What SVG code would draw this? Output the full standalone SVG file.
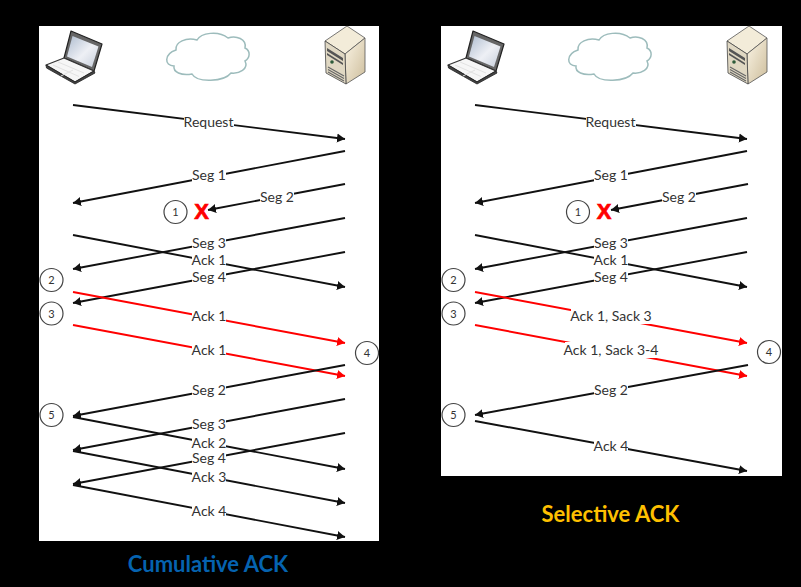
<svg xmlns="http://www.w3.org/2000/svg" width="801" height="587" viewBox="0 0 801 587">
<style>
.k{stroke:#111;stroke-width:1.9;fill:none;marker-end:url(#ak)}
.r{stroke:#f00;stroke-width:1.9;fill:none;marker-end:url(#ar)}
.bg{fill:#fff}
.t{font:14px Lato,"Liberation Sans",sans-serif;fill:#333;text-anchor:middle}
.c{fill:#fff;stroke:#444;stroke-width:1.2}
.n{font:11px Lato,"Liberation Sans",sans-serif;fill:#333;text-anchor:middle}
.x{font:900 22px "Liberation Sans",sans-serif;fill:#f00;stroke:#f00;stroke-width:.7;text-anchor:middle}
.title{font:bold 22px Lato,"Liberation Sans",sans-serif;text-anchor:middle}
</style>
<defs>
<marker id="ak" markerUnits="userSpaceOnUse" markerWidth="10" markerHeight="10" refX="8" refY="5" orient="auto"><path d="M0 0.500L8 5L0 9.500z" fill="#111"/></marker>
<marker id="ar" markerUnits="userSpaceOnUse" markerWidth="10" markerHeight="10" refX="8" refY="5" orient="auto"><path d="M0 0.500L8 5L0 9.500z" fill="#f00"/></marker>
<linearGradient id="scr" x1="0" y1="0" x2="1" y2="1"><stop offset="0" stop-color="#aebccf"/><stop offset=".55" stop-color="#eef0f5"/><stop offset="1" stop-color="#c6cedb"/></linearGradient>
<linearGradient id="sv" x1="0" y1="0" x2="1" y2="1"><stop offset="0" stop-color="#fbf5e6"/><stop offset="1" stop-color="#cdbd9b"/></linearGradient>
<g id="laptop">
<path d="M71 31L102 44L94 71L64 58z" fill="#666" stroke="#222" stroke-width="1.2" stroke-linejoin="round"/>
<path d="M72.500 36L98.500 46.500L92 67L67 56.500z" fill="url(#scr)"/>
<path d="M64 58L94 71L75 82L46 65z" fill="#f6f6f6" stroke="#333" stroke-width="1.200" stroke-linejoin="round"/>
<path d="M46 65L46.500 68L75 84L95 73L94 71L75 82z" fill="#444" stroke="#222" stroke-width=".8" stroke-linejoin="round"/>
<path d="M58 62L84 73M53 65L79 76.500M61 76L73 70" stroke="#e2e2e2" stroke-width="1" fill="none"/>
</g>
<path id="cloud" d="M176 50C175 42 186 37 197 40C201 33 218 30 228 38C236 35 247 39 245 48C251 51 250 58 245 61C249 69 239 74 231 73C224 82 197 83 192 74C181 76 173 72 174 66C164 66 164 54 176 50z" fill="#fff" stroke="#9dbcbc" stroke-width="1.5"/>
<g id="server">
<path d="M325 41L347 26L365 38L345 54z" fill="#f3ecd9" stroke="#555" stroke-width=".8" stroke-linejoin="round"/>
<path d="M345 54L365 38V72L346 84z" fill="url(#sv)" stroke="#555" stroke-width=".8" stroke-linejoin="round"/>
<path d="M325 41L345 54L346 84L326 73z" fill="#e0d8c3" stroke="#444" stroke-width=".8" stroke-linejoin="round"/>
<path d="M327 48L343 58V61L327 51zM327 53L343 63V65L327 55z" fill="#555"/>
<circle cx="332" cy="62" r="1.800" fill="#2c5b3a"/>
<path d="M328 67L344 76M328 69.500L344 78.500M328 72L344 81" stroke="#666" stroke-width="1.100" fill="none"/>
</g>
</defs>
<rect id="background" width="801" height="587" fill="#000"/>
<rect id="panel-cumulative" x="39" y="26" width="340" height="515" fill="#fff"/>
<rect id="panel-selective" x="441" y="26" width="341" height="450" fill="#fff"/>

<g id="laptop-left"><use href="#laptop"/></g>
<g id="cloud-left"><use href="#cloud"/></g>
<g id="server-left"><use href="#server"/></g>
<g id="laptop-right"><use href="#laptop" x="402"/></g>
<g id="cloud-right"><use href="#cloud" x="402"/></g>
<g id="server-right"><use href="#server" x="402"/></g>

<g id="connectors-left">
<line class="k" x1="73" y1="105" x2="345" y2="139"/>
<line class="k" x1="345" y1="151" x2="73" y2="203"/>
<line class="k" x1="345" y1="184" x2="208" y2="210"/>
<line class="k" x1="73" y1="235" x2="345" y2="287"/>
<line class="k" x1="345" y1="218" x2="73" y2="269"/>
<line class="k" x1="345" y1="252" x2="73" y2="303"/>
<line class="r" x1="73" y1="292" x2="345" y2="343"/>
<line class="r" x1="73" y1="325" x2="345" y2="376"/>
<line class="k" x1="345" y1="365" x2="73" y2="416"/>
<line class="k" x1="73" y1="417" x2="345" y2="469"/>
<line class="k" x1="345" y1="399" x2="73" y2="450"/>
<line class="k" x1="73" y1="451" x2="345" y2="503"/>
<line class="k" x1="345" y1="433" x2="73" y2="484"/>
<line class="k" x1="73" y1="485" x2="345" y2="537"/>
<g>
<rect class="bg" x="184" y="114" width="50" height="16"/><text class="t" x="208.500" y="126.500">Request</text>
<rect class="bg" x="192" y="167" width="34" height="16"/><text class="t" x="209" y="180">Seg 1</text>
<rect class="bg" x="260" y="189" width="34" height="16"/><text class="t" x="277" y="202">Seg 2</text>
<rect class="bg" x="192" y="235" width="34" height="16"/><text class="t" x="209" y="248">Seg 3</text>
<rect class="bg" x="192" y="252" width="34" height="16"/><text class="t" x="209" y="265">Ack 1</text>
<rect class="bg" x="192" y="269" width="34" height="16"/><text class="t" x="209" y="282">Seg 4</text>
<rect class="bg" x="192" y="308" width="34" height="16"/><text class="t" x="209" y="321">Ack 1</text>
<rect class="bg" x="192" y="342" width="34" height="16"/><text class="t" x="209" y="355">Ack 1</text>
<rect class="bg" x="192" y="382" width="34" height="16"/><text class="t" x="209" y="395">Seg 2</text>
<rect class="bg" x="192" y="416" width="34" height="16"/><text class="t" x="209" y="429">Seg 3</text>
<rect class="bg" x="192" y="435" width="34" height="16"/><text class="t" x="209" y="448">Ack 2</text>
<rect class="bg" x="192" y="450" width="34" height="16"/><text class="t" x="209" y="463">Seg 4</text>
<rect class="bg" x="192" y="469" width="34" height="16"/><text class="t" x="209" y="482">Ack 3</text>
<rect class="bg" x="192" y="503" width="34" height="16"/><text class="t" x="209" y="516">Ack 4</text>
</g>
</g>

<g id="connectors-right">
<line class="k" x1="475" y1="105" x2="747" y2="139"/>
<line class="k" x1="747" y1="151" x2="475" y2="203"/>
<line class="k" x1="748" y1="184" x2="611" y2="210"/>
<line class="k" x1="475" y1="235" x2="747" y2="287"/>
<line class="k" x1="747" y1="218" x2="475" y2="269"/>
<line class="k" x1="747" y1="252" x2="475" y2="303"/>
<line class="r" x1="475" y1="292" x2="747" y2="343"/>
<line class="r" x1="475" y1="325" x2="747" y2="376"/>
<line class="k" x1="748" y1="365" x2="475" y2="415"/>
<line class="k" x1="475" y1="421" x2="747" y2="471"/>
<g>
<rect class="bg" x="586" y="114" width="50" height="16"/><text class="t" x="610.500" y="126.500">Request</text>
<rect class="bg" x="594" y="167" width="34" height="16"/><text class="t" x="611" y="180">Seg 1</text>
<rect class="bg" x="662" y="189" width="34" height="16"/><text class="t" x="679" y="202">Seg 2</text>
<rect class="bg" x="594" y="235" width="34" height="16"/><text class="t" x="611" y="248">Seg 3</text>
<rect class="bg" x="594" y="252" width="34" height="16"/><text class="t" x="611" y="265">Ack 1</text>
<rect class="bg" x="594" y="269" width="34" height="16"/><text class="t" x="611" y="282">Seg 4</text>
<rect class="bg" x="571" y="308" width="80" height="16"/><text class="t" x="611" y="321">Ack 1, Sack 3</text>
<rect class="bg" x="565" y="342" width="92" height="16"/><text class="t" x="611" y="355">Ack 1, Sack 3-4</text>
<rect class="bg" x="594" y="382" width="34" height="16"/><text class="t" x="611" y="395">Seg 2</text>
<rect class="bg" x="594" y="438" width="34" height="16"/><text class="t" x="611" y="451">Ack 4</text>
</g>
</g>

<g id="step-1-left"><circle class="c" cx="175.500" cy="212" r="11.500"/><text class="n" x="175.500" y="216">1</text></g>
<g id="loss-left"><text class="x" x="201.500" y="219">X</text></g>
<g id="step-2-left"><circle class="c" cx="51.500" cy="280" r="11.500"/><text class="n" x="51.500" y="284">2</text></g>
<g id="step-3-left"><circle class="c" cx="51.500" cy="313.500" r="11.500"/><text class="n" x="51.500" y="317.500">3</text></g>
<g id="step-4-left"><circle class="c" cx="367" cy="353" r="11.500"/><text class="n" x="367" y="357">4</text></g>
<g id="step-5-left"><circle class="c" cx="51.500" cy="415" r="11.500"/><text class="n" x="51.500" y="419">5</text></g>

<g id="step-1-right"><circle class="c" cx="578" cy="212" r="11.500"/><text class="n" x="578" y="216">1</text></g>
<g id="loss-right"><text class="x" x="604" y="219">X</text></g>
<g id="step-2-right"><circle class="c" cx="453.500" cy="280" r="11.500"/><text class="n" x="453.500" y="284">2</text></g>
<g id="step-3-right"><circle class="c" cx="453.500" cy="313.500" r="11.500"/><text class="n" x="453.500" y="317.500">3</text></g>
<g id="step-4-right"><circle class="c" cx="769" cy="352" r="11.500"/><text class="n" x="769" y="356">4</text></g>
<g id="step-5-right"><circle class="c" cx="453.500" cy="415" r="11.500"/><text class="n" x="453.500" y="419">5</text></g>

<text class="title" x="208" y="572" fill="#0563b0">Cumulative ACK</text>
<text class="title" x="610.500" y="522" fill="#ffc000">Selective ACK</text>
</svg>
